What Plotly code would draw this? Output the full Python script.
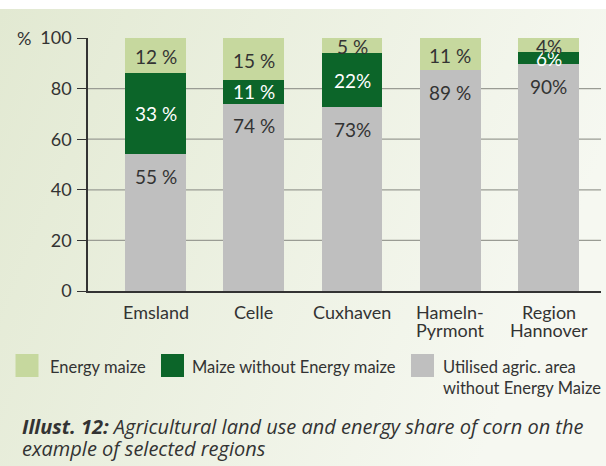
import base64
import plotly.graph_objects as go

regions = ["Emsland", "Celle", "Cuxhaven", "Hameln-<br>Pyrmont", "Region<br>Hannover"]
utilised = [54, 74, 72.6, 87.3, 89.7]
maize_wo = [32, 9.4, 21.4, 0, 4.6]
energy = [14, 16.6, 6, 12.7, 5.7]
utilised_lbl = ["55 %", "74 %", "73%", "89 %", "90%"]
maize_wo_lbl = ["33 %", "11 %", "22%", "", "6%"]
energy_lbl = ["12 %", "15 %", "5 %", "11 %", "4%"]
series_names = ["Energy maize", "Maize without Energy maize",
                "Utilised agric. area<br>without Energy Maize"]
y_ticks = [0, 20, 40, 60, 80, 100]
grid_vals = [20, 40, 60, 80]

C_LIGHT = "#c6d89e"
C_DARK = "#0c6529"
C_GREY = "#bfbfbf"
TXT = "#333333"
FONT = "Lato"

L, T, R, B = 88, 38, 601, 291
W, H = 606, 466
pw, ph = R - L, B - T


def px(x):
    return (x - L) / pw


def py(y):
    return (B - y) / ph


fig = go.Figure()
fig.add_bar(x=regions, y=utilised, marker_color=C_GREY, width=0.62, name=series_names[2])
fig.add_bar(x=regions, y=maize_wo, marker_color=C_DARK, width=0.62, name=series_names[1])
fig.add_bar(x=regions, y=energy, marker_color=C_LIGHT, width=0.62, name=series_names[0])
fig.update_traces(marker_line_width=0, showlegend=False, hoverinfo="skip")

ann = []
fs = 18
bfs = 19
for i, r in enumerate(regions):
    g = utilised[i]
    m = maize_wo[i]
    e = energy[i]
    ann.append(dict(x=r, y=g, text=utilised_lbl[i], yshift=-22, showarrow=False,
                    font=dict(color=TXT, size=bfs, family=FONT), yanchor="middle"))
    if maize_wo_lbl[i]:
        ann.append(dict(x=r, y=g + m / 2, text=maize_wo_lbl[i], yshift=0, showarrow=False,
                        font=dict(color="white", size=bfs, family=FONT), yanchor="middle"))
    ann.append(dict(x=r, y=g + m + e / 2, text=energy_lbl[i], yshift=-1, showarrow=False,
                    font=dict(color=TXT, size=bfs, family=FONT), yanchor="middle"))
    # category label lines
    for k, line in enumerate(r.split("<br>")):
        ann.append(dict(x=r, y=0, text=line, yshift=-21 - 18 * k, showarrow=False,
                        yanchor="middle", font=dict(color=TXT, size=fs, family=FONT)))

# % unit label
ann.append(dict(xref="paper", yref="y", x=px(15), y=100, xanchor="left", yanchor="middle",
                text="%", showarrow=False, font=dict(color=TXT, size=fs, family=FONT)))

# legend (custom)
shapes = []
lfs = 16.5
leg = [(15.5, 48, C_LIGHT, series_names[0]),
       (161, 189.5, C_DARK, series_names[1]),
       (411, 441, C_GREY, series_names[2])]
for sx, tx, col, name in leg:
    shapes.append(dict(type="rect", xref="paper", yref="paper",
                       x0=px(sx), x1=px(sx + 23), y0=py(354), y1=py(377),
                       fillcolor=col, line_width=0))
    ann.append(dict(xref="paper", yref="paper", x=px(tx), y=py(354.5), xanchor="left",
                    yanchor="top", align="left", text=name, showarrow=False,
                    font=dict(color=TXT, size=lfs, family=FONT)))

# gridlines
for gv in grid_vals:
    shapes.append(dict(type="line", xref="paper", yref="y", x0=0, x1=1, y0=gv, y1=gv,
                       line=dict(color="#9a9c94", width=1.3), layer="below"))

# caption
CFONT = "Open Sans"
ann.append(dict(xref="paper", yref="paper", x=px(20), y=py(426), xanchor="left", yanchor="middle",
                text="<b><i>Illust. 12:</i></b><i> Agricultural land use and energy share of corn on the</i>",
                showarrow=False, font=dict(color=TXT, size=20, family=CFONT)))
ann.append(dict(xref="paper", yref="paper", x=px(20), y=py(448), xanchor="left", yanchor="middle",
                text="<i>example of selected regions</i>",
                showarrow=False, font=dict(color=TXT, size=20, family=CFONT)))

svg = ('<svg xmlns="http://www.w3.org/2000/svg" width="606" height="457" preserveAspectRatio="none">'
       '<defs><linearGradient id="g" x1="0" y1="0" x2="1" y2="0.3">'
       '<stop offset="0" stop-color="#e2e9d2"/><stop offset="1" stop-color="#f6f8f1"/>'
       '</linearGradient></defs><rect width="606" height="457" fill="url(#g)"/></svg>')
src = "data:image/svg+xml;base64," + base64.b64encode(svg.encode()).decode()

fig.update_layout(
    barmode="stack",
    width=W, height=H,
    margin=dict(l=L, r=W - R, t=T, b=H - B, pad=0),
    paper_bgcolor="white",
    plot_bgcolor="rgba(0,0,0,0)",
    font=dict(family=FONT, color=TXT, size=fs),
    annotations=ann,
    shapes=shapes,
    images=[dict(source=src, xref="paper", yref="paper", x=px(0), y=py(9),
                 sizex=W / pw, sizey=(H - 9) / ph, sizing="stretch",
                 xanchor="left", yanchor="top", layer="below")],
    xaxis=dict(range=[-0.687, 4.534], showgrid=False, showline=True, linecolor="#333333",
               linewidth=1.5, ticks="", showticklabels=False, fixedrange=True),
    yaxis=dict(range=[0, 100], tickvals=y_ticks, showgrid=False, showline=True,
               linecolor="#333333", linewidth=1.5, ticks="outside", ticklen=9,
               tickcolor="#333333", tickwidth=1.3, zeroline=False,
               tickfont=dict(size=fs, color=TXT, family=FONT), ticklabelstandoff=2,
               fixedrange=True),
)

fig.write_html("out.html", config={"displayModeBar": False},
               post_script="document.body.style.margin='0';document.body.style.overflow='hidden';")
